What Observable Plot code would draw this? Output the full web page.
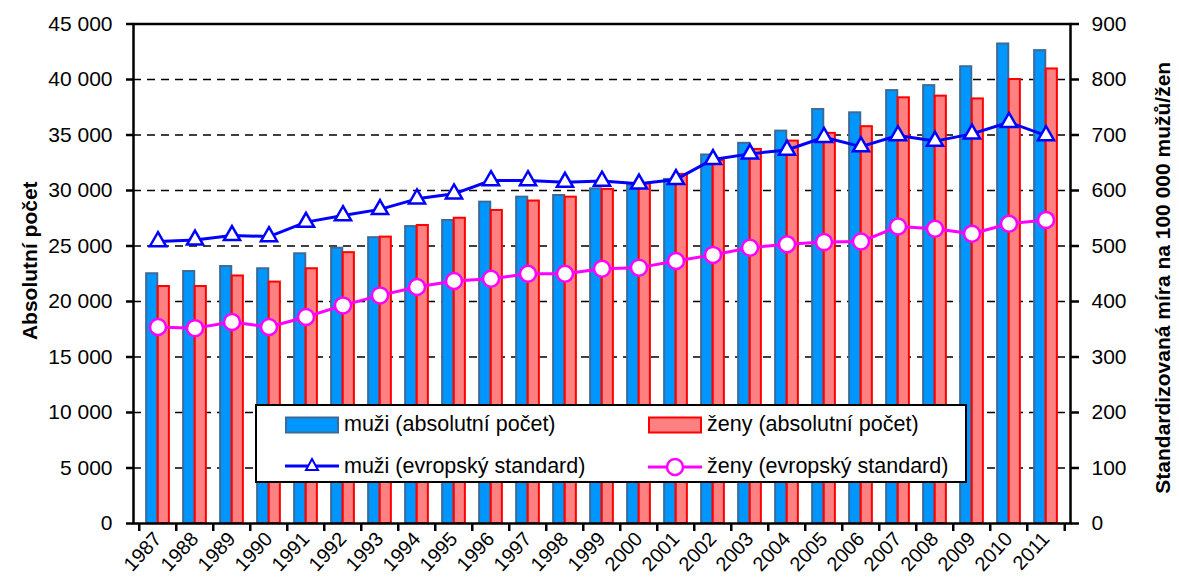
<!DOCTYPE html>
<html>
<head>
<meta charset="utf-8">
<script src="https://cdn.jsdelivr.net/npm/d3@7"></script>
<script src="https://cdn.jsdelivr.net/npm/@observablehq/plot@0.6"></script>
<style>
  html, body { margin: 0; padding: 0; background: #fff; }
  #wrap { position: relative; width: 1179px; height: 580px; font-family: "Liberation Sans", Arial, sans-serif; }
  #legend { position: absolute; left: 255px; top: 404px; width: 708px; height: 75px; border: 2px solid #000; background: #fff; font-size: 21.5px; color: #000; }
  .item { position: absolute; display: flex; align-items: center; white-space: nowrap; }
  .item svg { margin-right: 5px; }
</style>
</head>
<body>
<div id="wrap"></div>
<script>
const years = [1987,1988,1989,1990,1991,1992,1993,1994,1995,1996,1997,1998,1999,2000,2001,2002,2003,2004,2005,2006,2007,2008,2009,2010,2011];
const muziAbs = [22500,22700,23150,22950,24300,24800,25750,26750,27300,28950,29400,29550,30150,30450,31000,33200,34250,35350,37300,37000,39000,39450,41150,43200,42600];
const zenyAbs = [21350,21350,22300,21750,22950,24400,25800,26850,27500,28200,29050,29400,30100,30600,31450,32700,33700,34450,35150,35750,38350,38500,38250,40000,40950];
const muziRate = [508,511,519,517,543,555,566,585,594,618,618,615,617,612,620,656,666,673,696,679,699,689,702,723,699];
const zenyRate = [354,352,363,354,372,393,411,426,437,441,450,450,459,461,473,484,497,503,507,508,535,531,522,540,547];
const leftTicks = [0,5000,10000,15000,20000,25000,30000,35000,40000,45000];
const rightTicks = [0,100,200,300,400,500,600,700,800,900];
const gridTicks = [5000,10000,15000,20000,25000,30000,35000,40000];
const seriesNames = ["muži (absolutní počet)","ženy (absolutní počet)","muži (evropský standard)","ženy (evropský standard)"];
const leftTitle = "Absolutní počet";
const rightTitle = "Standardizovaná míra na 100 000 mužů/žen";

const K = 45000 / 900; // right axis -> left axis
const rows = years.map((y, i) => ({year: y, mA: muziAbs[i], zA: zenyAbs[i], mR: muziRate[i] * K, zR: zenyRate[i] * K}));

const W = 1179, H = 580, mL = 133, mR = 109, mT = 23.5, mB = 57;
const bw = (W - mL - mR) / years.length;
const fmt = d => String(d).replace(/\B(?=(\d{3})+(?!\d))/g, " ");

const chart = Plot.plot({
  width: W, height: H,
  marginLeft: mL, marginRight: mR, marginTop: mT, marginBottom: mB,
  x: {type: "band", domain: years, padding: 0, axis: null},
  y: {domain: [0, 45000], axis: null},
  style: {fontFamily: "'Liberation Sans', Arial, sans-serif", fontSize: "21px", color: "#000", background: "#fff"},
  marks: [
    Plot.ruleY(gridTicks, {stroke: "#000", strokeWidth: 1.6, strokeDasharray: "8,6"}),
    Plot.barY(rows, {x: "year", y: "mA", fill: "#0096ff", stroke: "#3d6b98", strokeWidth: 2, insetLeft: bw * 0.19, insetRight: bw * 0.5}),
    Plot.barY(rows, {x: "year", y: "zA", fill: "#ff8080", stroke: "#ff0000", strokeWidth: 2, insetLeft: bw * 0.5, insetRight: bw * 0.19}),
    Plot.line(rows, {x: "year", y: "mR", stroke: "#0000ff", strokeWidth: 3}),
    Plot.dot(rows, {x: "year", y: "mR", symbol: "triangle", r: 6, fill: "#fff", stroke: "#0000ff", strokeWidth: 2.5}),
    Plot.line(rows, {x: "year", y: "zR", stroke: "#ff00ff", strokeWidth: 3}),
    Plot.dot(rows, {x: "year", y: "zR", r: 8, fill: "#fff", stroke: "#ff00ff", strokeWidth: 2.5}),
    Plot.frame({stroke: "#000", strokeWidth: 2.5}),
    Plot.axisY({ticks: leftTicks, anchor: "left", tickSize: 7, tickPadding: 14, tickFormat: fmt, label: null, strokeWidth: 2.5, fontSize: 21}),
    Plot.axisY({ticks: leftTicks, anchor: "right", tickSize: 8, tickPadding: 13, tickFormat: d => String(d / K), label: null, strokeWidth: 2.5, fontSize: 21}),
    Plot.axisX({ticks: years, anchor: "bottom", tickSize: 8, tickFormat: () => "", dx: -bw / 2, label: null, strokeWidth: 2.5}),
    Plot.axisX({ticks: [years[years.length - 1]], anchor: "bottom", tickSize: 8, tickFormat: () => "", dx: bw / 2, label: null, strokeWidth: 2.5}),
    Plot.axisX({ticks: years, anchor: "bottom", tickSize: 0, tickPadding: 12, tickRotate: -47, tickFormat: d => String(d), label: null, fontSize: 20}),
    Plot.text([leftTitle], {frameAnchor: "left", textAnchor: "middle", rotate: -90, dx: -103, dy: -13, fontWeight: "bold", fontSize: 21}),
    Plot.text([rightTitle], {frameAnchor: "right", textAnchor: "middle", rotate: -90, dx: 93, dy: 4, fontWeight: "bold", fontSize: 21})
  ]
});

const wrap = document.getElementById("wrap");
wrap.appendChild(chart);

// Legend
const legend = document.createElement("div");
legend.id = "legend";
const swatches = [
  `<svg width="54" height="18"><rect x="1" y="1.5" width="52" height="15" fill="#0096ff" stroke="#3d6b98" stroke-width="2"/></svg>`,
  `<svg width="54" height="18"><rect x="1" y="1.5" width="52" height="15" fill="#ff8080" stroke="#ff0000" stroke-width="2"/></svg>`,
  `<svg width="54" height="20"><line x1="0" y1="9" x2="54" y2="9" stroke="#0000ff" stroke-width="3"/><path d="M27,2 L33,13 L21,13 Z" fill="#fff" stroke="#0000ff" stroke-width="2"/></svg>`,
  `<svg width="54" height="20"><line x1="0" y1="10" x2="54" y2="10" stroke="#ff00ff" stroke-width="3"/><circle cx="27" cy="10" r="8" fill="#fff" stroke="#ff00ff" stroke-width="2.5"/></svg>`
];
const pos = [[28, 6], [391, 6], [28, 48], [391, 48]];
seriesNames.forEach((name, i) => {
  const it = document.createElement("div");
  it.className = "item";
  it.style.left = pos[i][0] + "px";
  it.style.top = pos[i][1] + "px";
  it.innerHTML = swatches[i] + `<span>${name}</span>`;
  legend.appendChild(it);
});
wrap.appendChild(legend);
</script>
</body>
</html>
